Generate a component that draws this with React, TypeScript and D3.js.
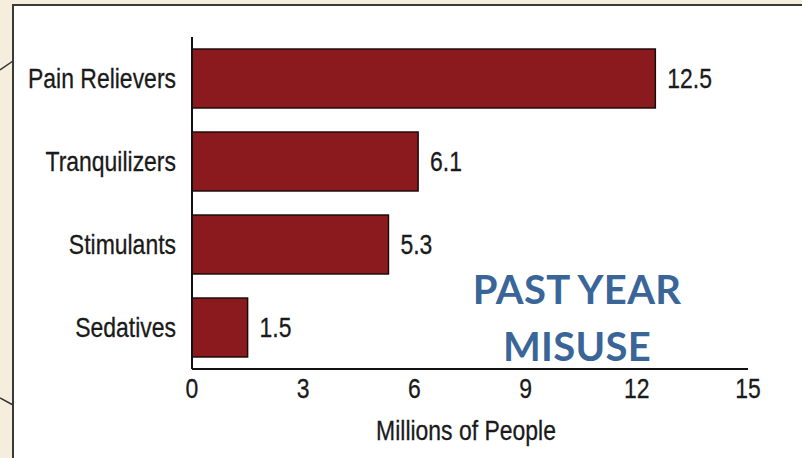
import React from "react";
import * as d3 from "d3";

const categories = ["Pain Relievers", "Tranquilizers", "Stimulants", "Sedatives"];
const values = [12.5, 6.1, 5.3, 1.5];
const xTicks = [0, 3, 6, 9, 12, 15];
const axisTitle = "Millions of People";
const overlayLines = ["PAST YEAR", "MISUSE"];

const W = 802;
const H = 458;
const FONT = "'Liberation Sans', Arial, sans-serif";
const SX = 0.82;

function NarrowText(props: {
  x: number;
  y: number;
  anchor: "start" | "middle" | "end";
  children: React.ReactNode;
  dy?: string;
}) {
  return (
    <g transform={`translate(${props.x},${props.y}) scale(${SX},1)`}>
      <text
        x={0}
        y={0}
        dy={props.dy}
        textAnchor={props.anchor}
        fontFamily={FONT}
        fontSize={28}
        fill="#1a1a1a"
        stroke="#1a1a1a"
        strokeWidth={0.3}
      >
        {props.children}
      </text>
    </g>
  );
}

export default function App() {
  const x = d3.scaleLinear().domain([0, 15]).range([192, 748]);
  const y = d3
    .scaleBand<string>()
    .domain(categories)
    .range([37, 369])
    .paddingInner(0.29)
    .paddingOuter(0.145);

  return (
    <svg
      width={W}
      height={H}
      style={{ position: "absolute", left: 0, top: 0, display: "block" }}
    >
      <rect x={0} y={0} width={W} height={H} fill="#f6eedc" />
      <rect x={13} y={5} width={W + 20} height={H + 20} fill="#ffffff" stroke="#3a3a3a" strokeWidth={2} />
      <line x1={0} y1={70} x2={13} y2={61} stroke="#333" strokeWidth={1.5} />
      <line x1={0} y1={398} x2={13} y2={405} stroke="#333" strokeWidth={1.5} />

      {categories.map((c, i) => (
        <g key={c}>
          <rect
            x={x(0)}
            y={y(c)!}
            width={x(values[i]) - x(0)}
            height={y.bandwidth()}
            fill="#8b1a1f"
            stroke="#1e0808"
            strokeWidth={1.5}
          />
          <NarrowText x={x(0) - 16} y={y(c)! + y.bandwidth() / 2} dy="0.33em" anchor="end">
            {c}
          </NarrowText>
          <NarrowText x={x(values[i]) + 12} y={y(c)! + y.bandwidth() / 2} dy="0.33em" anchor="start">
            {values[i].toFixed(1)}
          </NarrowText>
        </g>
      ))}

      <line x1={x(0)} y1={37} x2={x(0)} y2={369} stroke="#111" strokeWidth={2} />
      <line x1={x(0)} y1={369} x2={x(15)} y2={369} stroke="#111" strokeWidth={2} />
      {xTicks.map((t) => (
        <NarrowText key={t} x={x(t)} y={398} anchor="middle">
          {t}
        </NarrowText>
      ))}
      <NarrowText x={466} y={440} anchor="middle">
        {axisTitle}
      </NarrowText>

      {overlayLines.map((l, i) => (
        <text
          key={l}
          x={577}
          y={304 + i * 57}
          textAnchor="middle"
          fontFamily="Lato, 'Open Sans', sans-serif"
          fontWeight={700}
          fontSize={40}
          letterSpacing={0.3}
          fill="#3a6598"
        >
          {l}
        </text>
      ))}
    </svg>
  );
}
